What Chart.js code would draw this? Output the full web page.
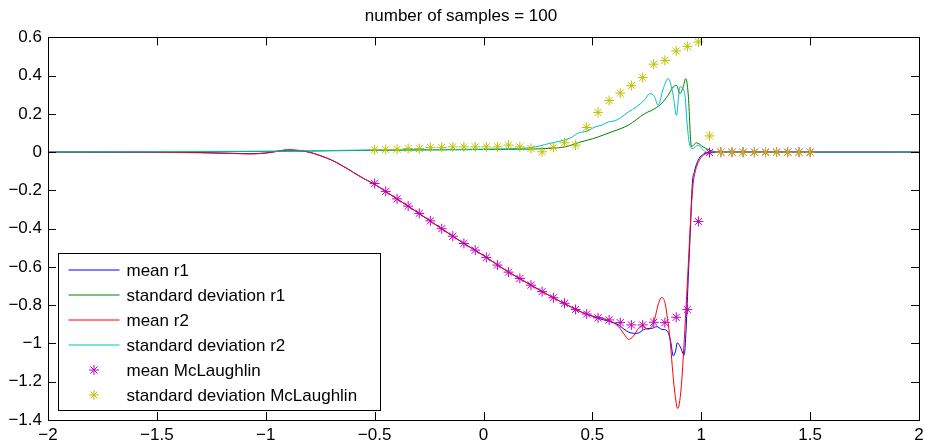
<!DOCTYPE html>
<html>
<head>
<meta charset="utf-8">
<script src="https://cdn.jsdelivr.net/npm/chart.js@4"></script>
<style>
  body { margin: 0; background: #fff; }
</style>
</head>
<body>
<canvas id="myChart" width="925" height="446"></canvas>
<script>
// ---- data ----
var titleText = "number of samples = 100";

var xTicks = [-2, -1.5, -1, -0.5, 0, 0.5, 1, 1.5, 2];
var yTicks = [-1.4, -1.2, -1, -0.8, -0.6, -0.4, -0.2, 0, 0.2, 0.4, 0.6];

var meanR1X = [-2,-1.6,-1.3,-1.15,-1.07,-1,-0.95,-0.9,-0.85,-0.8,-0.75,-0.7,-0.65,-0.6,-0.55,-0.5,-0.45,-0.4,-0.3,-0.2,-0.1,0,0.1,0.2,0.3,0.4,0.45,0.5,0.527,0.574,0.62,0.645,0.666,0.69,0.712,0.735,0.755,0.773,0.796,0.819,0.842,0.858,0.872,0.882,0.89,0.9,0.907,0.915,0.922,0.928,0.933,0.938,0.948,0.959,0.969,0.979,0.995,1.017,1.05,2];
var meanR1Y = [0,0,-0.002,-0.006,-0.008,-0.004,0.004,0.010,0.008,0,-0.018,-0.040,-0.070,-0.104,-0.138,-0.168,-0.205,-0.242,-0.317,-0.394,-0.470,-0.540,-0.616,-0.683,-0.748,-0.808,-0.836,-0.858,-0.869,-0.883,-0.903,-0.925,-0.940,-0.947,-0.945,-0.928,-0.922,-0.921,-0.912,-0.926,-0.932,-0.98,-1.065,-1.04,-0.996,-1.01,-1.025,-1.05,-1.06,-0.98,-0.86,-0.72,-0.46,-0.164,-0.1,-0.06,-0.025,-0.007,0,0];

var stdR1X = [-2,-1.5,-1.2,-1,-0.8,-0.5,-0.2,0,0.2,0.3,0.376,0.436,0.5,0.527,0.589,0.665,0.741,0.765,0.787,0.817,0.848,0.871,0.886,0.902,0.917,0.929,0.94,0.955,0.967,0.978,1.008,1.04,1.08,2];
var stdR1Y = [0,0.001,0.003,0.004,0.006,0.010,0.012,0.014,0.016,0.020,0.028,0.050,0.070,0.080,0.106,0.141,0.202,0.215,0.228,0.254,0.298,0.341,0.350,0.306,0.341,0.385,0.306,0.028,0.040,0.049,0.028,0.010,0,0];

var meanR2X = [-2,-1.6,-1.3,-1.15,-1.07,-1,-0.95,-0.9,-0.85,-0.8,-0.75,-0.7,-0.65,-0.6,-0.55,-0.5,-0.45,-0.4,-0.3,-0.2,-0.1,0,0.1,0.2,0.3,0.4,0.45,0.5,0.527,0.589,0.62,0.645,0.666,0.682,0.697,0.712,0.727,0.742,0.758,0.770,0.781,0.793,0.804,0.819,0.834,0.845,0.857,0.867,0.877,0.892,0.907,0.922,0.933,0.94,0.948,0.955,0.963,0.975,0.986,1.005,1.03,1.06,2];
var meanR2Y = [0,0,-0.003,-0.007,-0.009,-0.005,0.004,0.013,0.010,0,-0.018,-0.040,-0.070,-0.104,-0.138,-0.168,-0.205,-0.242,-0.317,-0.394,-0.470,-0.540,-0.616,-0.683,-0.748,-0.808,-0.836,-0.856,-0.862,-0.886,-0.912,-0.950,-0.978,-0.970,-0.947,-0.920,-0.909,-0.918,-0.926,-0.915,-0.895,-0.840,-0.790,-0.759,-0.790,-0.870,-0.982,-1.12,-1.243,-1.34,-1.243,-0.982,-0.75,-0.6,-0.42,-0.28,-0.164,-0.09,-0.055,-0.02,-0.005,0,0];

var stdR2X = [-2,-1.5,-1.3,-1,-0.8,-0.5,-0.2,0,0.1,0.22,0.3,0.4,0.436,0.475,0.512,0.54,0.573,0.604,0.63,0.665,0.703,0.741,0.764,0.785,0.802,0.825,0.848,0.871,0.886,0.902,0.924,0.935,0.947,0.962,0.985,1.01,1.03,2];
var stdR2Y = [0,0.002,0.004,0.005,0.007,0.012,0.014,0.016,0.018,0.024,0.045,0.075,0.100,0.110,0.132,0.140,0.158,0.164,0.180,0.210,0.237,0.275,0.306,0.290,0.245,0.330,0.385,0.298,0.193,0.341,0.306,0.150,0.037,0.019,0.037,0.010,0,0];

var mcX = [-0.5,-0.449,-0.397,-0.346,-0.295,-0.244,-0.192,-0.141,-0.090,-0.038,0.013,0.064,0.115,0.167,0.218,0.269,0.321,0.372,0.423,0.474,0.526,0.577,0.628,0.679,0.731,0.782,0.833,0.885,0.936,0.987,1.038,1.090,1.141,1.192,1.244,1.295,1.346,1.397,1.449,1.5];
var mcMean = [-0.164,-0.205,-0.244,-0.282,-0.320,-0.359,-0.400,-0.439,-0.477,-0.512,-0.550,-0.590,-0.627,-0.660,-0.695,-0.729,-0.761,-0.790,-0.822,-0.846,-0.866,-0.877,-0.891,-0.903,-0.903,-0.889,-0.891,-0.863,-0.822,-0.362,-0.002,0,0,0,0,0,0,0,0,0];
var mcStd = [0.013,0.014,0.015,0.019,0.019,0.025,0.025,0.028,0.028,0.028,0.028,0.028,0.037,0.028,0.019,0.002,0.025,0.049,0.037,0.129,0.208,0.270,0.309,0.348,0.390,0.460,0.480,0.529,0.553,0.576,0.085,0,0,0,0,0,0,0,0,0];

var FONT = "'Liberation Sans', Arial, Helvetica, sans-serif";

function pts(xs, ys){
    var out = [];
    for (var i = 0; i < xs.length; i++) out.push({x: xs[i], y: ys[i]});
    return out;
}

function fmt(v){
    var s = String(Math.round(v * 10) / 10);
    return s.replace('-', '\u2212');
}

function lineSet(label, xs, ys, color, order){
    return {
        label: label, data: pts(xs, ys), showLine: true,
        borderColor: color, backgroundColor: color, borderWidth: 1,
        pointRadius: 0, cubicInterpolationMode: 'monotone', order: order
    };
}

function starSet(label, xs, ys, color, order){
    return {
        label: label, data: pts(xs, ys), showLine: false,
        pointStyle: 'star', pointRadius: 5, pointBorderWidth: 1,
        borderColor: color, backgroundColor: color, order: order
    };
}

function noPadding(s){
    s.paddingLeft = 0; s.paddingRight = 0; s.paddingTop = 0; s.paddingBottom = 0;
    s.getPadding = function(){ return {left: 0, right: 0, top: 0, bottom: 0}; };
}

// box, inward ticks and the legend, matlab style
var boxPlugin = {
    id: 'boxPlugin',
    afterDraw: function(chart){
        var ctx = chart.ctx;
        var a = chart.chartArea;
        var xs = chart.scales.x, ys = chart.scales.y;
        ctx.save();
        ctx.strokeStyle = '#000';
        ctx.lineWidth = 1;
        ctx.strokeRect(Math.round(a.left) + 0.5, Math.round(a.top) + 0.5,
                       Math.round(a.right - a.left), Math.round(a.bottom - a.top));
        ctx.beginPath();
        xTicks.forEach(function(v){
            var p = Math.round(xs.getPixelForValue(v)) + 0.5;
            ctx.moveTo(p, a.bottom); ctx.lineTo(p, a.bottom - 8);
            ctx.moveTo(p, a.top); ctx.lineTo(p, a.top + 8);
        });
        yTicks.forEach(function(v){
            var p = Math.round(ys.getPixelForValue(v)) + 0.5;
            ctx.moveTo(a.left, p); ctx.lineTo(a.left + 8, p);
            ctx.moveTo(a.right, p); ctx.lineTo(a.right - 8, p);
        });
        ctx.stroke();

        // legend
        var lx = Math.round(a.left) + 10.5, ly = 253.5, lw = 322, lh = 157;
        ctx.fillStyle = '#fff';
        ctx.fillRect(lx, ly, lw, lh);
        ctx.strokeRect(lx, ly, lw, lh);
        ctx.font = '17px ' + FONT;
        ctx.textBaseline = 'middle';
        ctx.textAlign = 'left';
        chart.data.datasets.forEach(function(ds, i){
            var ry = ly + 16.5 + i * 25;
            if (ds.showLine) {
                ctx.strokeStyle = ds.borderColor;
                ctx.beginPath();
                ctx.moveTo(lx + 10, ry); ctx.lineTo(lx + 61, ry);
                ctx.stroke();
            } else {
                ctx.strokeStyle = ds.borderColor;
                ctx.beginPath();
                var cx = lx + 35.5, r = 5;
                ctx.moveTo(cx - r, ry); ctx.lineTo(cx + r, ry);
                ctx.moveTo(cx, ry - r); ctx.lineTo(cx, ry + r);
                var d = r * 0.7071;
                ctx.moveTo(cx - d, ry - d); ctx.lineTo(cx + d, ry + d);
                ctx.moveTo(cx - d, ry + d); ctx.lineTo(cx + d, ry - d);
                ctx.stroke();
            }
            ctx.fillStyle = '#000';
            ctx.fillText(ds.label, lx + 68, ry + 1);
        });
        ctx.restore();
    }
};

var ctx = document.getElementById("myChart").getContext('2d');
var myChart = new Chart(ctx, {
    type: 'scatter',
    data: {
        datasets: [
            lineSet('mean r1', meanR1X, meanR1Y, '#0000ff', 5),
            lineSet('standard deviation r1', stdR1X, stdR1Y, '#008000', 4),
            lineSet('mean r2', meanR2X, meanR2Y, '#ff0000', 3),
            lineSet('standard deviation r2', stdR2X, stdR2Y, '#00bfbf', 2),
            starSet('mean McLaughlin', mcX, mcMean, '#bf00bf', 1),
            starSet('standard deviation McLaughlin', mcX, mcStd, '#bfbf00', 0)
        ]
    },
    plugins: [boxPlugin],
    options: {
        responsive: false,
        animation: false,
        events: [],
        layout: { padding: { left: 0, right: 3, top: 0, bottom: 0 } },
        plugins: {
            legend: { display: false },
            tooltip: { enabled: false },
            title: {
                display: true, text: titleText, color: '#000',
                font: { family: FONT, size: 17, weight: 'normal' },
                padding: { top: 6, bottom: 11 }
            }
        },
        scales: {
            x: {
                type: 'linear', min: -2, max: 2,
                grid: { display: false, drawTicks: false },
                border: { display: false },
                ticks: { color: '#000', font: { family: FONT, size: 17 }, padding: 5,
                         maxRotation: 0, autoSkip: false, callback: fmt },
                afterBuildTicks: function(s){ s.ticks = xTicks.map(function(v){ return {value: v}; }); },
                afterFit: function(s){ s.height = 26; noPadding(s); }
            },
            y: {
                type: 'linear', min: -1.4, max: 0.6,
                grid: { display: false, drawTicks: false },
                border: { display: false },
                ticks: { color: '#000', font: { family: FONT, size: 17 }, padding: 6,
                         autoSkip: false, callback: fmt },
                afterBuildTicks: function(s){ s.ticks = yTicks.map(function(v){ return {value: v}; }); },
                afterFit: function(s){ s.width = 48; noPadding(s); }
            }
        }
    }
});
</script>
</body>
</html>
